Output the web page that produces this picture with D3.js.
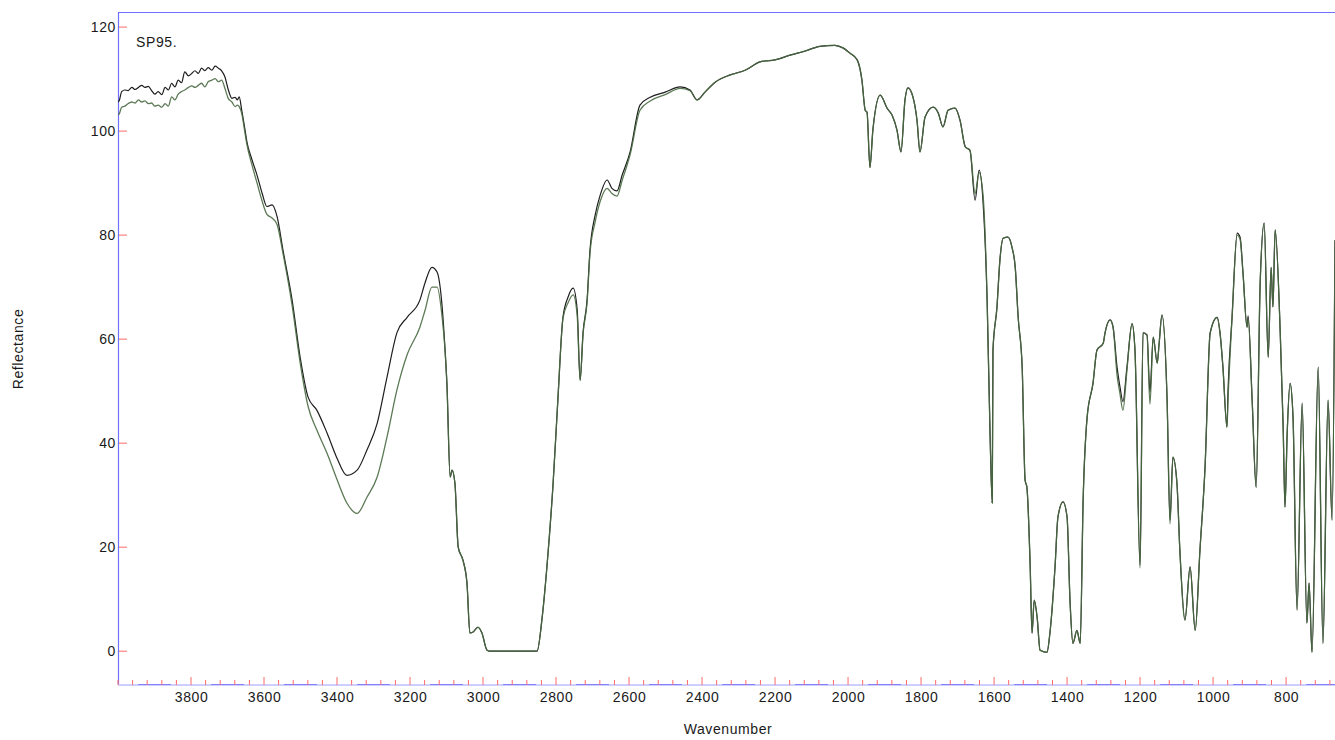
<!DOCTYPE html>
<html>
<head>
<meta charset="utf-8">
<script src="https://cdn.jsdelivr.net/npm/d3@7/dist/d3.min.js"></script>
<style>
  html, body { margin: 0; padding: 0; background: #fff; }
  svg { display: block; font-family: "Liberation Sans", Arial, Helvetica, sans-serif; }
</style>
</head>
<body>
<svg id="chart" width="1335" height="740"></svg>
<script>
// ---- data ----
const wavenumbers = [4000,3996,3990,3981,3972,3962,3953,3944,3935,3926,3917,3908,3899,3890,3880,3871,3862,3853,3844,3835,3826,3817,3807,3798,3789,3780,3771,3762,3753,3743,3734,3725,3716,3707,3698,3688,3679,3673,3668,3661,3652,
3647,3633,3619,3605,3592,3578,3564,3548,3523,3501,3479,3455,3427,3400,3373,3345,3318,3290,3263,3236,3208,3173,3159,3140,3126,3112,3104,3099,3090,3085,3077,3068,3055,3044,3036,3027,3014,3003,2989,2981,2852,2838,2825,2808,2795,2781,2767,2753,2742,2734,2726,2715,2707,2693,2679,2660,2647,2633,2619,2597,2570,2542,2501,2460,2433,2414,2392,2364,2323,2282,2241,2200,2159,2118,2077,2036,2014,1995,1975,1962,1953,1948,1940,1932,1912,1893,1879,1866,1855,1844,1836,1822,1811,1803,1789,1767,1753,1740,1726,1707,1693,1679,1666,1652,1641,1630,1619,1611,1605,1603,1592,1584,1575,1562,1551,1542,1534,1523,1515,1510,1501,1496,1490,1482,1474,1455,1447,1433,1425,1411,1400,1392,1384,1373,1364,1356,1345,1329,1318,1301,1296,1282,1274,1263,1255,1247,1236,1222,1214,1200,1192,1181,1173,1164,1153,1148,1140,1126,1118,1110,1099,1091,1077,1063,1049,1036,1022,1008,989,981,973,962,959,948,934,926,918,907,904,893,882,871,860,849,841,836,830,816,808,803,797,789,781,770,756,743,737,729,712,699,685,674,666];

const sampleBlack = [105.6,106.0,107.6,107.9,107.8,108.4,108.0,108.4,108.8,108.4,108.6,107.8,107.1,107.6,107.0,108.4,107.9,109.2,108.5,109.8,109.3,111.4,110.6,111.1,111.6,111.1,112.1,111.6,112.2,111.7,112.5,112.1,111.6,110.4,108.0,106.3,106.5,106.0,106.6,104.0,100.2,
98.0,94.5,91.5,88.0,85.5,85.8,83.5,77.1,67.5,56.5,48.8,46.3,41.9,37.1,33.8,34.8,38.7,43.8,52.7,61.2,64.2,67.5,70.8,73.8,72.9,66.2,57.9,51.5,33.5,34.8,32.3,20.0,17.5,13.1,3.5,3.7,4.6,3.5,0.2,0.0,0.0,6.5,16.2,32.3,48.3,64.2,68.1,69.8,65.6,52.1,61.2,67.5,77.1,83.8,87.7,90.6,89.0,88.5,91.5,96.0,105.0,106.5,107.5,108.5,107.9,106.0,107.5,109.4,110.8,111.7,113.3,113.7,114.6,115.4,116.3,116.5,116.0,115.0,113.7,109.8,104.0,103.6,93.0,100.2,106.9,104.4,103.0,100.2,96.0,106.0,108.3,106.5,102.0,96.0,102.7,104.6,103.5,100.8,104.0,104.4,102.0,97.0,96.3,86.7,92.5,86.2,67.5,41.9,28.5,57.9,66.2,75.2,79.4,79.6,77.7,73.8,64.2,54.6,32.9,31.5,16.2,3.5,9.8,6.5,0.2,-0.2,3.5,16.2,25.8,28.7,25.8,9.8,1.5,4.0,1.5,29.0,45.0,51.5,57.9,59.2,61.2,63.7,62.3,54.6,50.8,48.0,54.6,63.0,57.9,16.5,61.2,60.8,49.8,60.4,55.4,59.0,64.6,48.3,25.2,37.3,32.3,19.4,6.0,16.2,4.0,19.4,35.4,61.2,64.2,61.2,54.6,43.1,50.2,64.2,80.4,79.6,72.7,62.3,64.5,48.3,31.5,70.8,82.3,56.5,73.8,66.2,81.0,61.2,43.1,27.7,41.9,51.5,45.0,7.9,47.7,5.4,13.1,-0.2,54.6,1.5,48.3,25.2,79.0];

const sampleGreen = [103.1,103.4,104.6,104.8,105.3,105.6,105.4,106.0,105.6,105.8,105.3,105.4,104.8,105.0,104.6,105.3,104.8,106.6,106.0,107.1,107.6,107.9,108.4,108.7,108.4,108.8,109.2,108.5,109.5,109.8,110.1,109.5,109.8,108.2,106.3,105.6,104.7,105.0,104.7,103.4,99.6,
97.5,93.5,90.0,86.5,84.0,83.3,82.0,76.5,66.5,55.5,47.0,42.5,38.0,33.0,28.5,26.5,29.6,33.5,41.2,50.2,57.0,62.3,65.5,70.0,70.0,64.2,57.9,51.5,33.5,34.8,32.3,20.0,17.5,13.1,3.5,3.7,4.6,3.5,0.2,0.0,0.0,6.5,16.2,32.3,48.3,64.0,67.0,68.5,64.5,52.1,61.0,67.0,76.5,82.5,86.5,89.0,88.0,87.5,90.5,95.5,104.0,105.8,107.0,108.2,107.8,106.0,107.5,109.4,110.8,111.7,113.3,113.7,114.6,115.4,116.3,116.5,116.0,115.0,113.7,109.8,104.0,103.6,93.0,100.2,106.9,104.4,103.0,100.2,96.0,106.0,108.3,106.5,102.0,96.0,102.7,104.6,103.5,100.8,104.0,104.4,102.0,97.0,96.3,88.0,92.0,87.5,67.5,41.9,28.5,57.9,66.2,75.2,79.4,79.6,77.7,73.8,64.2,54.6,32.9,31.5,16.2,3.5,9.8,6.5,0.2,-0.2,3.5,16.2,25.8,28.7,25.8,9.8,1.5,4.0,1.5,29.0,45.0,51.5,57.9,59.2,61.2,63.7,62.3,53.0,49.5,46.3,54.0,63.0,57.9,16.0,61.2,60.8,47.5,60.4,55.4,59.0,64.6,48.3,24.5,37.3,32.3,19.4,6.0,16.2,4.0,19.4,35.4,61.2,64.2,61.2,54.6,43.1,48.5,64.2,80.0,79.2,72.7,62.3,64.0,48.3,31.5,70.8,82.3,56.5,73.8,66.2,81.0,61.2,43.1,27.7,41.9,51.5,45.0,7.9,47.7,5.4,13.1,-0.2,54.6,1.5,48.3,25.2,79.0];

const yTickValues = [0, 20, 40, 60, 80, 100, 120];
const xMajorTickValues = [3800, 3600, 3400, 3200, 3000, 2800, 2600, 2400, 2200, 2000, 1800, 1600, 1400, 1200, 1000, 800];
const chartTitle = "SP95.";
const xTitle = "Wavenumber";
const yTitle = "Reflectance";

// ---- layout ----
const M = { left: 118, right: 1335, top: 12, bottom: 685 };
const FONT = "'Liberation Sans', Arial, Helvetica, sans-serif";
const FS = 14, LS = 0.6;
const svg = d3.select("#chart");

const x = d3.scaleLinear().domain([4000, 666]).range([M.left, M.right]);
const y = d3.scaleLinear().domain([-6.5, 122.9]).range([M.bottom, M.top]);

svg.append("defs").append("clipPath").attr("id", "plotclip")
  .append("rect").attr("x", M.left).attr("y", M.top).attr("width", M.right - M.left).attr("height", M.bottom - M.top);

// frame lines
svg.append("line").attr("x1", M.left).attr("x2", M.right).attr("y1", M.top + 0.5).attr("y2", M.top + 0.5)
  .attr("stroke", "#6f6fff").attr("stroke-width", 1.2);
svg.append("line").attr("x1", M.left + 0.5).attr("x2", M.left + 0.5).attr("y1", M.top).attr("y2", M.bottom)
  .attr("stroke", "#6f6fff").attr("stroke-width", 1.2);

// bottom axis line (light blue with darker segments)
svg.append("line").attr("x1", M.left).attr("x2", M.right).attr("y1", M.bottom).attr("y2", M.bottom)
  .attr("stroke", "#cfcfff").attr("stroke-width", 2);
const segCenters = d3.range(3900, 600, -200);
svg.append("g").attr("clip-path", "url(#plotclip)").selectAll("line").data(segCenters).join("line")
  .attr("x1", d => x(d + 45)).attr("x2", d => x(d - 45))
  .attr("y1", M.bottom - 0.5).attr("y2", M.bottom - 0.5)
  .attr("stroke", "#8080ff").attr("stroke-width", 1.2);

// x ticks: minor every 40, major every 200
const xMinor = d3.range(4000, 660, -40);
svg.append("g").selectAll("line").data(xMinor).join("line")
  .attr("x1", d => x(d)).attr("x2", d => x(d))
  .attr("y1", M.bottom).attr("y2", d => (xMajorTickValues.includes(d) ? M.bottom - 8 : M.bottom - 5))
  .attr("stroke", "#ff6a6a").attr("stroke-width", 1);

// x axis labels via d3 axis
const xAxis = d3.axisBottom(x).tickValues(xMajorTickValues).tickSize(0).tickPadding(7).tickFormat(d3.format("d"));
const gx = svg.append("g").attr("transform", `translate(0,${M.bottom})`).call(xAxis);
gx.select(".domain").remove();
gx.selectAll("text").attr("font-size", FS).attr("fill", "#1a1a1a").attr("letter-spacing", LS)
  .attr("font-family", FONT);

// y axis
const yAxis = d3.axisLeft(y).tickValues(yTickValues).tickSize(0).tickPadding(2).tickFormat(d3.format("d"));
const gy = svg.append("g").attr("transform", `translate(${M.left},0)`).call(yAxis);
gy.select(".domain").remove();
gy.selectAll("text").attr("font-size", FS).attr("fill", "#1a1a1a").attr("letter-spacing", LS)
  .attr("font-family", FONT);
svg.append("g").selectAll("line").data(yTickValues).join("line")
  .attr("x1", M.left + 1).attr("x2", M.left + 9)
  .attr("y1", d => y(d)).attr("y2", d => y(d))
  .attr("stroke", "#ff6a6a").attr("stroke-width", 1);

// spectra
const rowsBlack = wavenumbers.map((w, i) => ({ w, v: sampleBlack[i] })).filter(d => d.v !== undefined);
const rowsGreen = wavenumbers.map((w, i) => ({ w, v: sampleGreen[i] })).filter(d => d.v !== undefined);
const line = d3.line().x(d => x(d.w)).y(d => y(d.v)).curve(d3.curveMonotoneX);
const plot = svg.append("g").attr("clip-path", "url(#plotclip)");
plot.append("path").datum(rowsBlack).attr("d", line)
  .attr("fill", "none").attr("stroke", "#1e1e1e").attr("stroke-width", 1.2).attr("stroke-linejoin", "round");
plot.append("path").datum(rowsGreen).attr("d", line)
  .attr("fill", "none").attr("stroke", "#4a6a42").attr("stroke-width", 1.3).attr("stroke-opacity", 0.9).attr("stroke-linejoin", "round");

// texts
svg.append("text").attr("x", 136).attr("y", 47).attr("font-size", FS).attr("letter-spacing", LS)
  .attr("font-family", FONT).attr("fill", "#1a1a1a").text(chartTitle);
svg.append("text").attr("x", 728).attr("y", 734).attr("text-anchor", "middle").attr("letter-spacing", LS)
  .attr("font-family", FONT).attr("font-size", FS).attr("fill", "#1a1a1a").text(xTitle);
svg.append("text").attr("transform", "translate(23,349) rotate(-90)").attr("text-anchor", "middle").attr("letter-spacing", LS)
  .attr("font-family", FONT).attr("font-size", FS).attr("fill", "#1a1a1a").text(yTitle);
</script>
</body>
</html>
